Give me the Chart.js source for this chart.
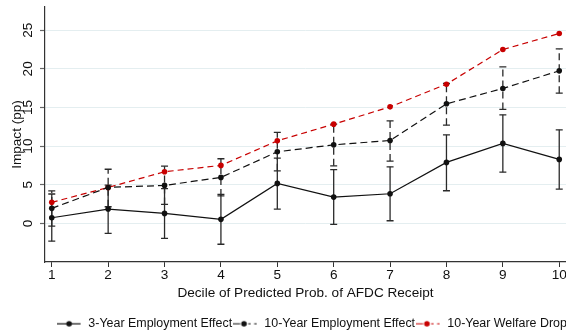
<!DOCTYPE html>
<html>
<head>
<meta charset="utf-8">
<script src="https://cdn.jsdelivr.net/npm/chart.js@4/dist/chart.umd.min.js"></script>
<style>
  html, body { margin: 0; padding: 0; background: #fff; overflow: hidden; }
  #frame { width: 566px; height: 332px; overflow: hidden; position: relative; }
  #wrap { width: 623px; height: 340px; position: absolute; left: 0; top: 0; }
</style>
</head>
<body>
<div id="frame"><div id="wrap"><canvas id="chart" width="623" height="340"></canvas></div></div>
<script>
// deciles on the x axis
const deciles = [1, 2, 3, 4, 5, 6, 7, 8, 9, 10];
const yTicks = [0, 5, 10, 15, 20, 25];

// 3-year employment effect and its confidence interval
const threeYear   = [0.73, 1.85, 1.29, 0.52, 5.17, 3.40, 3.83, 7.89, 10.35, 8.28];
const threeYearLo = [-2.30, -1.30, -1.94, -2.70, 1.85, -0.13, 0.34, 4.22, 6.63, 4.44];
const threeYearHi = [3.80, 4.95, 4.50, 3.75, 8.45, 6.95, 7.32, 11.46, 14.05, 12.10];

// 10-year employment effect and its confidence interval
const tenYear   = [1.94, 4.65, 4.91, 5.95, 9.26, 10.16, 10.73, 15.47, 17.46, 19.74];
const tenYearLo = [-0.35, 2.15, 2.45, 3.55, 6.80, 7.45, 8.06, 12.71, 14.74, 16.85];
const tenYearHi = [4.20, 7.00, 7.40, 8.36, 11.77, 12.85, 13.27, 18.10, 20.25, 22.58];

// 10-year welfare drop
const welfareDrop = [2.72, 4.65, 6.68, 7.50, 10.68, 12.84, 15.08, 18.01, 22.50, 24.57];

const seriesNames = ["3-Year Employment Effect", "10-Year Employment Effect", "10-Year Welfare Drop"];

const FONT = "'Liberation Sans', Arial, Helvetica, sans-serif";
const FS = 13.6;       // axis text
const LEG_FS = 12.45;  // legend text
const RED = "#c80000";
const DARK = "#111111";

function points(arr) {
    return deciles.map((d, i) => ({ x: d, y: arr[i] }));
}

// little line + dot picture for the legend
function makeSymbol(color, dashed) {
    const c = document.createElement("canvas");
    c.width = 25;
    c.height = 8;
    const g = c.getContext("2d");
    g.strokeStyle = color;
    g.lineWidth = 1.2;
    g.beginPath();
    if (dashed) {
        g.moveTo(0, 4); g.lineTo(7.5, 4);
        g.moveTo(15.5, 4); g.lineTo(18, 4);
        g.moveTo(21.5, 4); g.lineTo(24, 4);
    } else {
        g.moveTo(0, 4); g.lineTo(24, 4);
    }
    g.stroke();
    g.fillStyle = color;
    g.beginPath();
    g.arc(dashed ? 11.3 : 12.5, 4, 2.8, 0, Math.PI * 2);
    g.fill();
    return c;
}
const symbols = [makeSymbol(DARK, false), makeSymbol(DARK, true), makeSymbol(RED, true)];

// error bars drawn with the chart's own scales
const errorBars = {
    id: "errorBars",
    beforeDatasetsDraw(chart) {
        const { ctx, scales: { x, y } } = chart;
        const sets = [
            { lo: threeYearLo, hi: threeYearHi, dash: [] },
            { lo: tenYearLo, hi: tenYearHi, dash: [7, 4] }
        ];
        ctx.save();
        ctx.strokeStyle = "#2a2a2a";
        ctx.lineWidth = 1.3;
        sets.forEach(s => {
            deciles.forEach((d, i) => {
                const px = x.getPixelForValue(d);
                const pLo = y.getPixelForValue(s.lo[i]);
                const pHi = y.getPixelForValue(s.hi[i]);
                ctx.setLineDash(s.dash);
                ctx.beginPath();
                ctx.moveTo(px, pLo);
                ctx.lineTo(px, pHi);
                ctx.stroke();
                ctx.setLineDash([]);
                ctx.beginPath();
                ctx.moveTo(px - 3.5, pLo);
                ctx.lineTo(px + 3.5, pLo);
                ctx.moveTo(px - 3.5, pHi);
                ctx.lineTo(px + 3.5, pHi);
                ctx.stroke();
            });
        });
        ctx.restore();
    }
};

Chart.defaults.font.family = FONT;
Chart.defaults.font.size = FS;
Chart.defaults.color = DARK;

new Chart(document.getElementById("chart"), {
    type: "line",
    data: {
        datasets: [
            {
                label: seriesNames[0],
                data: points(threeYear),
                borderColor: DARK,
                backgroundColor: DARK,
                borderWidth: 1.2,
                pointRadius: 2.8,
                pointBorderWidth: 0,
                tension: 0
            },
            {
                label: seriesNames[1],
                data: points(tenYear),
                borderColor: DARK,
                backgroundColor: DARK,
                borderWidth: 1.2,
                borderDash: [7, 4],
                pointRadius: 2.8,
                pointBorderWidth: 0,
                tension: 0
            },
            {
                label: seriesNames[2],
                data: points(welfareDrop),
                borderColor: RED,
                backgroundColor: RED,
                borderWidth: 1.2,
                borderDash: [6, 4],
                pointRadius: 2.8,
                pointBorderWidth: 0,
                tension: 0
            }
        ]
    },
    options: {
        responsive: false,
        animation: false,
        layout: { padding: { top: 7, left: 0, right: 0, bottom: 0 } },
        plugins: {
            tooltip: { enabled: false },
            legend: {
                position: "bottom",
                labels: {
                    usePointStyle: true,
                    pointStyleWidth: 26,
                    padding: 0,
                    color: DARK,
                    font: { size: LEG_FS, family: FONT },
                    generateLabels(chart) {
                        const items = Chart.defaults.plugins.legend.labels.generateLabels(chart);
                        items.forEach((it, i) => { it.pointStyle = symbols[i]; });
                        return items;
                    }
                }
            }
        },
        scales: {
            x: {
                type: "linear",
                min: 0.88,
                max: 10.12,
                afterBuildTicks(scale) { scale.ticks = deciles.map(v => ({ value: v })); },
                afterFit(scale) { scale.height = 340 - 262 - (LEG_FS + 10); },
                grid: { display: true, drawOnChartArea: false, drawTicks: true, tickLength: 5, color: "#333" },
                border: { display: true, color: "#333", width: 1.2 },
                ticks: { padding: 0, color: DARK, font: { size: FS }, maxRotation: 0 },
                title: {
                    display: true,
                    text: "Decile of Predicted Prob. of AFDC Receipt",
                    color: DARK,
                    font: { size: FS },
                    padding: { top: 4, bottom: 16 }
                }
            },
            y: {
                type: "linear",
                min: -5,
                max: 28,
                afterBuildTicks(scale) { scale.ticks = yTicks.map(v => ({ value: v })); },
                afterFit(scale) {
                    scale.width = 45;
                    scale.paddingTop = 0;
                    scale.paddingBottom = 0;
                },
                grid: { color: "#e4eef0", lineWidth: 1, drawTicks: true, tickLength: 5, tickColor: "#666", tickWidth: 1.2 },
                border: { display: true, color: "#333", width: 1.2 },
                ticks: { padding: 4.1, minRotation: 90, maxRotation: 90, crossAlign: "center", color: DARK, font: { size: FS } },
                title: {
                    display: true,
                    text: "Impact (pp)",
                    color: DARK,
                    font: { size: FS },
                    padding: { top: 8.8, bottom: 0 }
                }
            },
            // empty spacer so the plot ends at the window edge while the legend keeps its width
            spacer: {
                type: "linear",
                axis: "y",
                position: "right",
                display: true,
                grid: { display: false },
                border: { display: false },
                ticks: { display: false },
                afterFit(scale) {
                    scale.width = 57;
                    scale.paddingTop = 0;
                    scale.paddingBottom = 0;
                }
            }
        }
    },
    plugins: [errorBars]
});
</script>
</body>
</html>
